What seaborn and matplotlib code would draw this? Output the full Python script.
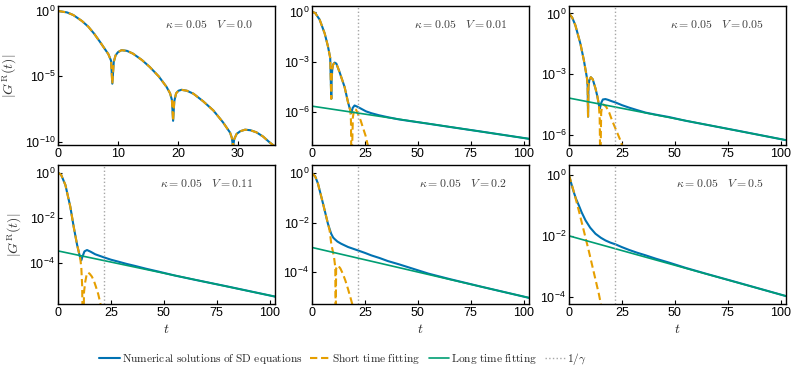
import numpy as np
import matplotlib
matplotlib.use("Agg")
import matplotlib.pyplot as plt
from matplotlib.font_manager import FontProperties
from matplotlib.ticker import NullLocator
import seaborn as sns

# ---------------------------------------------------------
# values (time t, log10 |G^R(t)|)
# ---------------------------------------------------------
kappa = 0.05
V_values = [0.0, 0.01, 0.05, 0.11, 0.2, 0.5]
inv_gamma = 21.5

# V = 0.0 (numerical and short time fit coincide)
t_num_0 = [0, 1.5, 2.55, 4, 5.05, 6, 7.0, 7.8, 8.4, 8.85, 9.06, 9.3, 9.6, 10.0, 10.6,
           11.5, 12.5, 14, 15.3, 16.8, 18.1, 18.7, 19.0, 19.2, 19.4, 19.7, 20.1, 20.6,
           21.5, 22.6, 24.2, 25.9, 27.5, 28.7, 29.0, 29.2, 29.4, 29.8, 30.4, 31.2, 32.1,
           33.1, 34.2, 35.3, 36.3]
lg_num_0 = [0, -0.11, -0.31, -0.77, -1.2, -1.72, -2.36, -2.9, -3.3, -3.8, -5.56, -3.9,
            -3.4, -3.15, -3.0, -3.05, -3.26, -3.75, -4.28, -5.0, -5.8, -6.3, -6.8, -8.4,
            -6.9, -6.3, -6.1, -6.03, -6.1, -6.33, -6.9, -7.6, -8.5, -9.3, -9.7, -10.4,
            -9.8, -9.4, -9.2, -9.08, -9.12, -9.28, -9.6, -10.05, -10.4]

# V = 0.01
t_num_1 = [0, 1.5, 3.6, 6, 7.5, 8.6, 9.1, 9.3, 9.6, 10.0, 10.7, 11.5, 13, 15.4, 17,
           18.1, 18.6, 19.2, 20.1, 21.5, 23.3, 25.5, 28, 31.5, 35.8, 41, 46.8, 55, 65,
           80, 102.5]
lg_num_1 = [0, -0.08, -0.47, -1.3, -2.05, -2.75, -5.2, -4.0, -3.4, -3.15, -3.04, -3.1,
            -3.6, -4.5, -5.4, -5.9, -6.05, -5.75, -5.6, -5.68, -5.8, -5.95, -6.06, -6.18,
            -6.3, -6.43, -6.54, -6.69, -6.88, -7.16, -7.59]
t_fit_1 = [0, 1.5, 3.6, 6, 7.5, 8.6, 9.1, 9.3, 9.6, 10.0, 10.7, 11.5, 13, 15.4, 17,
           18.1, 18.4, 18.6, 18.8, 19.3, 20.0, 20.8, 21.7, 23.0, 24.0, 25.3, 26.4, 27.0]
lg_fit_1 = [0, -0.08, -0.47, -1.3, -2.05, -2.75, -5.2, -4.0, -3.4, -3.15, -3.04, -3.1,
            -3.6, -4.5, -5.4, -5.9, -6.5, -9.0, -9.0, -6.3, -5.8, -5.85, -6.1, -6.5,
            -6.9, -7.4, -8.0, -8.4]
lg_long_1 = [-5.64, -7.59]

# V = 0.05
t_num_2 = [0, 1.5, 3, 5.4, 7, 8.5, 8.8, 9.0, 9.2, 9.6, 10.3, 11.2, 12.5, 13.4, 14.1,
           14.5, 14.8, 15.3, 16, 17.2, 18.5, 20, 22, 25, 28.3, 32, 36.2, 41, 47.3, 55,
           65, 80, 102.5]
lg_num_2 = [0, -0.2, -0.58, -1.5, -2.3, -3.2, -3.6, -5.1, -3.6, -3.3, -3.15, -3.25,
            -3.7, -4.1, -4.5, -4.7, -4.6, -4.4, -4.25, -4.23, -4.27, -4.33, -4.4, -4.53,
            -4.65, -4.77, -4.9, -5.0, -5.12, -5.3, -5.5, -5.8, -6.26]
t_fit_2 = [0, 1.5, 3, 5.4, 7, 8.5, 8.8, 9.0, 9.2, 9.6, 10.3, 11.2, 12.5, 13.4, 14.1,
           14.5, 14.7, 14.9, 15.2, 15.7, 16.3, 17.5, 19, 20.4, 21.6, 22.8, 24, 25, 25.5]
lg_fit_2 = [0, -0.2, -0.58, -1.5, -2.3, -3.2, -3.6, -5.1, -3.6, -3.3, -3.15, -3.25,
            -3.7, -4.1, -4.5, -5.2, -7.0, -7.0, -4.9, -4.55, -4.5, -4.6, -4.9, -5.3,
            -5.6, -5.9, -6.2, -6.5, -6.7]
lg_long_2 = [-4.18, -6.26]

# V = 0.11
t_num_3 = [0, 1.5, 3.5, 5.8, 7.4, 9, 10.5, 11.0, 11.5, 12.5, 13.7, 15.5, 17.6, 21.5,
           25, 28.6, 32.5, 36.5, 41.5, 47.5, 55, 65, 80, 102.5]
lg_num_3 = [0, -0.1, -0.55, -1.51, -2.4, -3.2, -3.8, -3.9, -3.75, -3.5, -3.44, -3.52,
            -3.63, -3.76, -3.87, -3.96, -4.06, -4.15, -4.27, -4.4, -4.57, -4.77, -5.06,
            -5.51]
t_fit_3 = [0, 1.5, 3.5, 5.8, 7.4, 9, 10.5, 11.0, 11.4, 11.7, 12.0, 12.3, 12.9, 13.6,
           14.2, 15, 16, 17, 17.9, 19, 20, 20.5]
lg_fit_3 = [0, -0.1, -0.55, -1.51, -2.4, -3.2, -3.8, -4.2, -5.0, -7.0, -7.0, -5.3,
            -4.84, -4.5, -4.44, -4.5, -4.62, -4.82, -5.07, -5.4, -5.8, -6.1]
lg_long_3 = [-3.48, -5.51]

# V = 0.2
t_num_4 = [0, 1.5, 2.8, 5.2, 7.5, 8.5, 9.1, 10.0, 10.7, 12, 13.8, 17, 21.7, 25, 28,
           32, 35.8, 41, 46.9, 55, 65, 80, 102.5]
lg_num_4 = [0, -0.12, -0.41, -1.22, -2.03, -2.3, -2.45, -2.6, -2.66, -2.76, -2.85,
            -2.98, -3.12, -3.22, -3.32, -3.43, -3.55, -3.68, -3.84, -4.06, -4.28, -4.59,
            -5.04]
t_fit_4 = [0, 1.5, 2.8, 5.2, 7.5, 8.3, 9.1, 10.4, 11.0, 11.2, 11.4, 12.3, 13.4, 14.6,
           15.8, 17, 18, 19, 19.5]
lg_fit_4 = [0, -0.12, -0.41, -1.22, -2.03, -2.3, -2.85, -3.39, -3.8, -6.0, -3.85,
            -3.73, -3.85, -4.07, -4.35, -4.68, -4.98, -5.29, -5.5]
lg_long_4 = [-3.0, -5.04]

# V = 0.5
t_num_5 = [0, 1, 2.2, 3.3, 4.6, 6, 7.8, 10, 12.5, 15, 17.2, 19.5, 22, 25, 28.3, 32,
           36.2, 41, 47.3, 55, 65, 80, 102.5]
lg_num_5 = [0, -0.26, -0.55, -0.78, -0.99, -1.23, -1.49, -1.73, -1.93, -2.06, -2.15,
            -2.22, -2.28, -2.37, -2.46, -2.55, -2.64, -2.75, -2.88, -3.05, -3.25, -3.54,
            -3.98]
t_fit_5 = [0, 2.3, 4.6, 9.3, 14.1, 15.5]
lg_fit_5 = [0, -0.55, -1.16, -2.48, -3.91, -4.4]
lg_long_5 = [-2.0, -3.98]

t_long = [0, 102.5]

# ---------------------------------------------------------
# styling
# ---------------------------------------------------------
sns.set_theme(style="ticks")
plt.rcParams["font.family"] = ["Liberation Sans", "DejaVu Sans"]
plt.rcParams["mathtext.fontset"] = "custom"
plt.rcParams["mathtext.rm"] = "Liberation Sans"
plt.rcParams["mathtext.it"] = "Liberation Sans:italic"
plt.rcParams["mathtext.bf"] = "Liberation Sans:bold"

c_num, c_short, c_long = "#0072B2", "#E69F00", "#009E73"
c_gamma = "0.65"

panels = [
    (t_num_0, lg_num_0, t_num_0, lg_num_0, None),
    (t_num_1, lg_num_1, t_fit_1, lg_fit_1, lg_long_1),
    (t_num_2, lg_num_2, t_fit_2, lg_fit_2, lg_long_2),
    (t_num_3, lg_num_3, t_fit_3, lg_fit_3, lg_long_3),
    (t_num_4, lg_num_4, t_fit_4, lg_fit_4, lg_long_4),
    (t_num_5, lg_num_5, t_fit_5, lg_fit_5, lg_long_5),
]
ylims = [(-10.25, 0.38), (-7.96, 0.34), (-6.5, 0.37), (-5.84, 0.34), (-5.29, 0.34), (-4.24, 0.33)]
yticks = [[0, -5, -10], [0, -3, -6], [0, -3, -6], [0, -2, -4], [0, -2, -4], [0, -2, -4]]

fig = plt.figure(figsize=(7.93, 3.83), dpi=100)
lefts = [58 / 793, 312 / 793, 569 / 793]
bottoms = [1 - 145 / 383, 1 - 304 / 383]
w, h = 217 / 793, 139 / 383

cm_prop = FontProperties(size=8.2, math_fontfamily="cm")
dash = (0, (3.5, 1.8))

axes = []
for i, (tn, ln, tf, lf, ll) in enumerate(panels):
    ax = fig.add_axes([lefts[i % 3], bottoms[i // 3], w, h])
    axes.append(ax)
    ax.set_yscale("log")
    sns.lineplot(x=tn, y=np.power(10.0, ln), ax=ax, color=c_num, lw=1.5,
                 estimator=None, sort=False, label="Numerical solutions of SD equations")
    sns.lineplot(x=tf, y=np.power(10.0, lf), ax=ax, color=c_short, lw=1.5,
                 linestyle=dash, estimator=None, sort=False,
                 label="Short time fitting")
    if ll is not None:
        sns.lineplot(x=t_long, y=np.power(10.0, ll), ax=ax, color=c_long, lw=1.2,
                     estimator=None, sort=False, label="Long time fitting")
        ax.axvline(inv_gamma, color=c_gamma, ls=":", lw=1.0, label=r"$1/\gamma$")
    if ax.get_legend() is not None:
        ax.get_legend().remove()

    ax.set_xlim(0, 36.2 if i == 0 else 102.5)
    ax.set_ylim(10.0 ** ylims[i][0], 10.0 ** ylims[i][1])
    ax.set_yticks([10.0 ** k for k in yticks[i]])
    ax.yaxis.set_minor_locator(NullLocator())
    ax.set_xticks([0, 10, 20, 30] if i == 0 else [0, 25, 50, 75, 100])
    ax.tick_params(direction="in", length=3, width=0.8, labelsize=9, pad=2,
                   top=False, right=False, colors="black")
    for s in ax.spines.values():
        s.set_linewidth(1.0)
        s.set_color("black")
        s.set_visible(True)

    ax.text(0.90, 0.86, rf"$\kappa=0.05\quad V={V_values[i]}$", transform=ax.transAxes,
            ha="right", va="center", fontsize=8.5, color="0.25", math_fontfamily="cm")
    ax.set_xlabel(r"$t$" if i >= 3 else "", fontsize=10, math_fontfamily="cm", labelpad=2)
    ax.set_ylabel(r"$|G^{\rm R}(t)|$" if i % 3 == 0 else "", fontsize=10,
                  math_fontfamily="cm", labelpad=4, color="0.2")

handles, labels = axes[1].get_legend_handles_labels()
labels = [r"$\mathrm{Numerical\ solutions\ of\ SD\ equations}$",
          r"$\mathrm{Short\ time\ fitting}$",
          r"$\mathrm{Long\ time\ fitting}$",
          r"$1/\gamma$"]
fig.legend(handles, labels, loc="center", bbox_to_anchor=(343 / 793, 1 - 359 / 383),
           ncol=4, frameon=False, prop=cm_prop, handlelength=1.8, handletextpad=0.15,
           columnspacing=0.7)

fig.savefig("out.png", dpi=100)
